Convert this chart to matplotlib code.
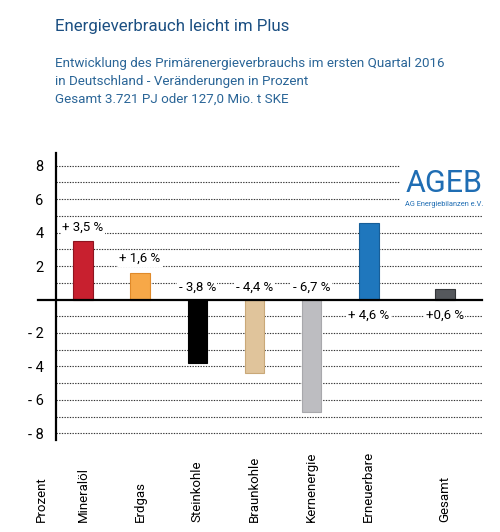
import matplotlib
matplotlib.use("Agg")
import matplotlib.pyplot as plt
import numpy as np

categories = ["Mineralöl", "Erdgas", "Steinkohle", "Braunkohle", "Kernenergie", "Erneuerbare", "Gesamt"]
values = [3.5, 1.6, -3.8, -4.4, -6.7, 4.6, 0.6]
value_labels = ["+ 3,5 %", "+ 1,6 %", "- 3,8 %", "- 4,4 %", "- 6,7 %", "+ 4,6 %", "+0,6 %"]
yticks = [8, 6, 4, 2, -2, -4, -6, -8]
ytick_labels = ["8", "6", "4", "2", "- 2", "- 4", "- 6", "- 8"]
title = "Energieverbrauch leicht im Plus"
subtitle = ["Entwicklung des Primärenergieverbrauchs im ersten Quartal 2016",
            "in Deutschland - Veränderungen in Prozent",
            "Gesamt 3.721 PJ oder 127,0 Mio. t SKE"]

plt.rcParams['font.family'] = ["Roboto", "DejaVu Sans"]

colors = ["#c8202f", "#f7a848", "#000000", "#e0c49b", "#bdbdc1", "#1f77bd", "#55585c"]
edges = ["#8e1420", "#e08a2a", "#000000", "#c9a878", "#a8a8ac", "#175e98", "#333538"]

W, H = 500, 532
fig = plt.figure(figsize=(W / 100, H / 100), dpi=100)
ax = fig.add_axes([56 / W, 1 - 440 / H, (482 - 56) / W, (440 - 153) / H])

x = np.array([0, 1, 2, 3, 4, 5, 6.33])
ax.set_xlim(-0.47, 6.98)
ax.set_ylim(-8.4, 8.76)

# dotted gridlines
for g in range(-8, 9):
    if g == 0:
        continue
    xmax = 1.0
    if g >= 6:
        xmax = (399 - 56) / (482 - 56)
    ax.axhline(g, xmin=0, xmax=xmax, color="#333333", lw=0.8, ls=(0, (1.2, 1.2)), zorder=1)

ax.bar(x, values, width=0.34, color=colors, edgecolor=edges, linewidth=0.8, zorder=3)

# zero line extending left of the axis
ax.plot([-0.79, 6.98], [0, 0], color="black", lw=1.6, clip_on=False, zorder=4)

for xi, v, lab in zip(x, values, value_labels):
    if v < 0:
        y, va = 0.35, "bottom"
    elif v >= 4.0 or v < 1:
        y, va = -0.55, "top"
    else:
        y, va = v + 0.45, "bottom"
    ax.text(xi, y, lab, ha="center", va=va, fontsize=9.5, color="black", zorder=5,
            bbox=dict(facecolor="white", edgecolor="none", pad=1.0))

ax.set_yticks(yticks)
ax.set_yticklabels(ytick_labels, fontsize=10.5)
ax.tick_params(axis="y", length=0, pad=9)
ax.set_xticks([])
for s in ["top", "right", "bottom"]:
    ax.spines[s].set_visible(False)
ax.spines["left"].set_linewidth(1.6)

# category labels, rotated, bottom aligned
for xi, cat in zip(x, categories):
    px = ax.transData.transform((xi, 0))[0] / W
    fig.text(px, 1 - 522 / H, cat, rotation=90, ha="center", va="bottom", fontsize=9.5)
fig.text(41.7 / W, 1 - 522 / H, "Prozent", rotation=90, ha="center", va="bottom", fontsize=9.5)

# title & subtitles
fig.text(55 / W, 1 - 31 / H, title, fontsize=12.2, color="#1b4f82", ha="left", va="baseline")
for i, line in enumerate(subtitle):
    fig.text(55 / W, 1 - (67 + 18 * i) / H, line, fontsize=9.6, color="#2a6597",
             ha="left", va="baseline")

# AGEB logo
fig.text(444 / W, 1 - 192 / H, "AGEB", fontsize=22, color="#1f6db3",
         ha="center", va="baseline")
fig.text(444 / W, 1 - 206 / H, "AG Energiebilanzen e.V.", fontsize=5.3, color="#1f6db3",
         ha="center", va="baseline")

fig.savefig("out.png", dpi=100)
